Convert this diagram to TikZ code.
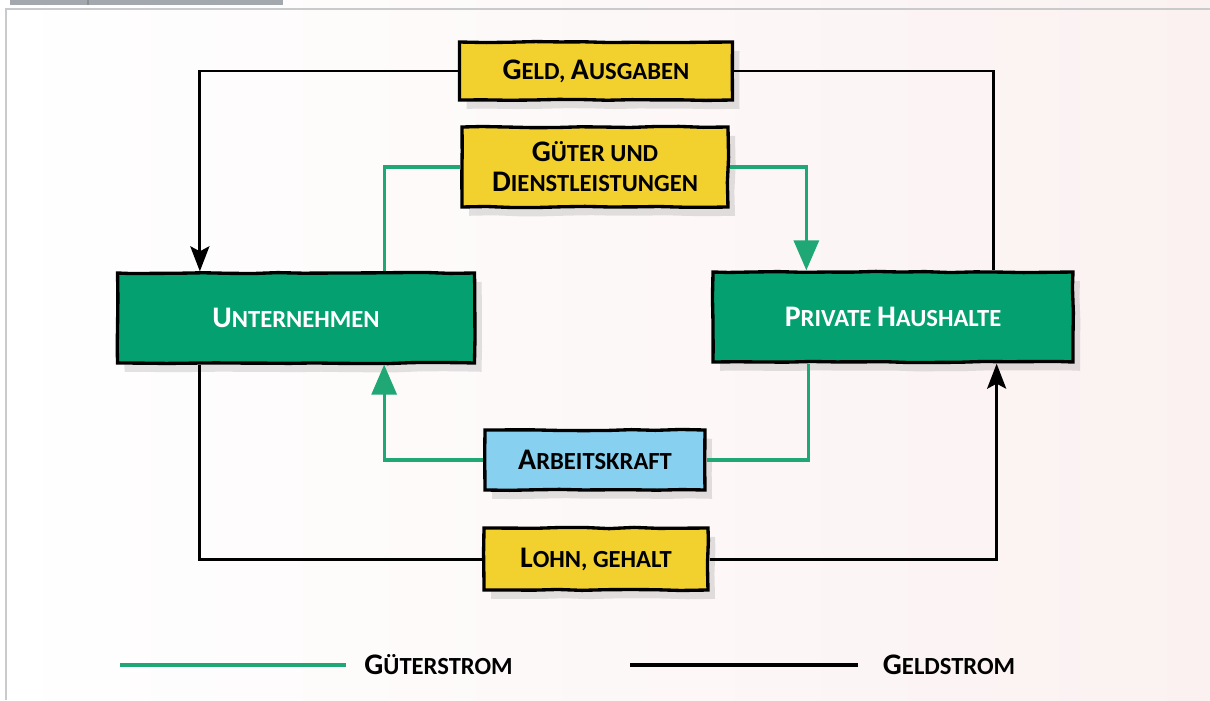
\documentclass[tikz,border=0pt]{standalone}
\usepackage{fontspec}
\setmainfont{Carlito}
\usepackage{tikz}
\usetikzlibrary{arrows.meta,calc,positioning,shadows,decorations.pathmorphing}
\definecolor{kreisgelb}{HTML}{F2D12F}
\definecolor{kreisgruen}{HTML}{04A06F}
\definecolor{kreisblau}{HTML}{88D0F0}
\definecolor{strichgruen}{HTML}{1FA776}
\definecolor{hintergrund}{HTML}{FBF1F1}
\definecolor{rahmengrau}{HTML}{C9CACC}
\definecolor{reitergrau}{HTML}{A3A8AF}
\newcommand{\kap}[2]{{\fontsize{17}{20}\selectfont #1}#2}
\tikzset{
  kasten/.style={draw=black,line width=1.9pt,
    decorate,decoration={random steps,segment length=14pt,amplitude=0.35pt},
    drop shadow={opacity=0.22,shadow xshift=4pt,shadow yshift=-5pt},
    font=\bfseries\fontsize{14}{17}\selectfont,align=center,inner sep=0pt},
  geldlinie/.style={black,line width=1.7pt},
  gueterlinie/.style={strichgruen,line width=1.8pt},
  geldpfeil/.style={geldlinie,-{Stealth[length=0.5cm,width=0.38cm,inset=0.1cm]}},
  gueterpfeil/.style={gueterlinie,-{Triangle[length=0.6cm,width=0.5cm]}},
  legende/.style={text=black,font=\bfseries\fontsize{14}{17}\selectfont,inner sep=0pt}
}
\begin{document}
\begin{tikzpicture}[x=0.02cm,y=-0.02cm]
\pgfmathsetseed{7}
\useasboundingbox (0,0) rectangle (1210,700);
\shade[left color=white,right color=hintergrund] (0,0) rectangle (1210,700);
\fill[reitergrau] (10,0) rectangle (283,5);
\draw[rahmengrau!70!black,line width=1pt] (88,0) -- (88,5);
\draw[rahmengrau,line width=1.2pt] (6,700) -- (6,9) -- (1210,9);
\node[kasten,fill=kreisgelb,minimum width=5.46cm,minimum height=1.16cm] (geld) at (596,71) {\kap{G}{ELD}, \kap{A}{USGABEN}};
\node[kasten,fill=kreisgelb,minimum width=5.32cm,minimum height=1.6cm] (gueter) at (595,167) {\kap{G}{ÜTER UND}\\\kap{D}{IENSTLEISTUNGEN}};
\node[kasten,fill=kreisgruen,text=white,minimum width=7.14cm,minimum height=1.8cm] (unternehmen) at (296,318) {\kap{U}{NTERNEHMEN}};
\node[kasten,fill=kreisgruen,text=white,minimum width=7.2cm,minimum height=1.8cm] (haushalte) at (893,317) {\kap{P}{RIVATE} \kap{H}{AUSHALTE}};
\node[kasten,fill=kreisblau,minimum width=4.4cm,minimum height=1.2cm] (arbeit) at (595,460) {\kap{A}{RBEITSKRAFT}};
\node[kasten,fill=kreisgelb,minimum width=4.48cm,minimum height=1.24cm] (lohn) at (596,559) {\kap{L}{OHN}, GEHALT};
\draw[geldpfeil] (geld.west) -| ([xshift=1.68cm]unternehmen.north west);
\draw[geldlinie] (geld.east) -| ([xshift=-1.62cm]haushalte.north east);
\draw[geldlinie] ([xshift=1.68cm]unternehmen.south west) |- (lohn.west);
\draw[geldpfeil] (lohn.east) -| ([xshift=-1.56cm]haushalte.south east);
\draw[gueterlinie] ([xshift=-1.84cm]unternehmen.north east) |- (gueter.west);
\draw[gueterpfeil] (gueter.east) -| ([xshift=1.9cm]haushalte.north west);
\draw[gueterlinie] ([xshift=1.94cm]haushalte.south west) |- (arbeit.east);
\draw[gueterpfeil] (arbeit.west) -| ([xshift=-1.84cm]unternehmen.south east);
\draw[strichgruen,line width=2.8pt] (120,665) -- (346,665) node[right=0.32cm,legende] (lgueter) {\kap{G}{ÜTERSTROM}};
\draw[black,line width=2.8pt] (630,665) -- (858,665) node[right=0.45cm,legende] (lgeld) {\kap{G}{ELDSTROM}};
\end{tikzpicture}
\end{document}
